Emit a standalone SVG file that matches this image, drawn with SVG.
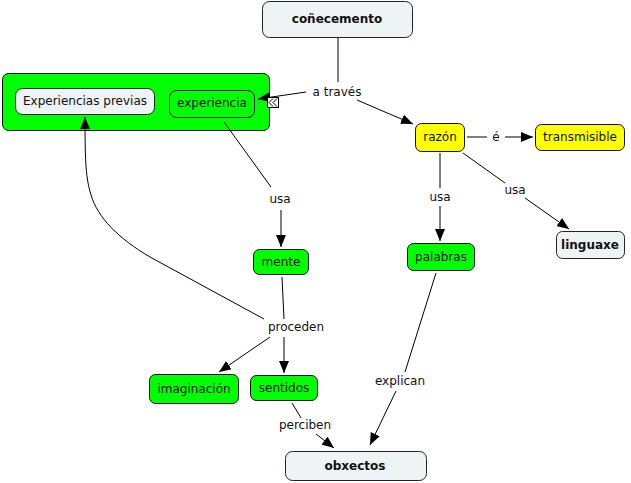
<svg xmlns="http://www.w3.org/2000/svg" width="631" height="483" viewBox="0 0 631 483">
<defs>
<marker id="arr" markerWidth="12" markerHeight="10" refX="12" refY="5" orient="auto" markerUnits="userSpaceOnUse">
<path d="M0,0 L12,5 L0,10 Z" fill="#000"/>
</marker>
<style>
text{font-family:"DejaVu Sans",Verdana,sans-serif;font-size:12px;text-anchor:middle;dominant-baseline:central;fill:#111}
.b{font-weight:bold}
.light{fill:#eef3f5;stroke:#222;stroke-width:1}
.green{fill:#00ff00;stroke:#111;stroke-width:1}
.yellow{fill:#ffff00;stroke:#111;stroke-width:1}
.c{fill:none;stroke:#000;stroke-width:1}
</style>
</defs>
<rect width="631" height="483" fill="#fff"/>
<g id="node-conecemento">
<rect class="light" x="262.5" y="1.5" width="150" height="36" rx="7"/>
<text class="b" x="337" y="19">coñecemento</text>
</g>
<g id="node-grupo">
<rect class="green" x="2.5" y="73.5" width="267" height="57" rx="6"/>
</g>
<g id="node-experiencias-previas">
<rect class="light" x="15.5" y="88.5" width="139" height="26" rx="7"/>
<text x="85" y="101">Experiencias previas</text>
</g>
<g id="node-experiencia">
<rect class="green" x="169.5" y="90.5" width="85" height="27" rx="7"/>
<text x="212" y="103">experiencia</text>
</g>
<g id="node-razon">
<rect class="yellow" x="415.5" y="123.5" width="49" height="28" rx="6"/>
<text x="440" y="137">razón</text>
</g>
<g id="node-transmisible">
<rect class="yellow" x="535.5" y="124.5" width="89" height="26" rx="6"/>
<text x="580" y="137">transmisible</text>
</g>
<g id="node-palabras">
<rect class="green" x="407.5" y="243.5" width="67" height="27" rx="6"/>
<text x="441" y="257">palabras</text>
</g>
<g id="node-linguaxe">
<rect class="light" x="556.5" y="231.5" width="68" height="27" rx="6"/>
<text class="b" x="590" y="245">linguaxe</text>
</g>
<g id="node-mente">
<rect class="green" x="253.5" y="249.5" width="55" height="25" rx="6"/>
<text x="281" y="262">mente</text>
</g>
<g id="node-imaginacion">
<rect class="green" x="149.5" y="374.5" width="89" height="29" rx="6"/>
<text x="194" y="389">imaginación</text>
</g>
<g id="node-sentidos">
<rect class="green" x="250.5" y="375.5" width="67" height="25" rx="6"/>
<text x="284" y="388">sentidos</text>
</g>
<g id="node-obxectos">
<rect class="light" x="285.5" y="451.5" width="141" height="29" rx="7"/>
<text class="b" x="355" y="466">obxectos</text>
</g>
<g id="connectors">
<path class="c" d="M338,38 L338,82"/>
<path class="c" d="M306,92 L258,99" marker-end="url(#arr)"/>
<path class="c" d="M357,100 L413,124" marker-end="url(#arr)"/>
<path class="c" d="M467,137 L487,137"/>
<path class="c" d="M505,137 L533,137" marker-end="url(#arr)"/>
<path class="c" d="M440,153 L440,188"/>
<path class="c" d="M440,206 L440,241" marker-end="url(#arr)"/>
<path class="c" d="M463,153 L505,183"/>
<path class="c" d="M525,198 L569,229" marker-end="url(#arr)"/>
<path class="c" d="M224,122 L271,187"/>
<path class="c" d="M281,210 L281,247" marker-end="url(#arr)"/>
<path class="c" d="M282,277 L284,319"/>
<path class="c" d="M264,319 L150,257 C118,238 98,218 91,195 C86,178 85,165 85,117" marker-end="url(#arr)"/>
<path class="c" d="M270,337 L219,372" marker-end="url(#arr)"/>
<path class="c" d="M284,337 L284,373" marker-end="url(#arr)"/>
<path class="c" d="M292,403 L301,418"/>
<path class="c" d="M316,434 L334,448" marker-end="url(#arr)"/>
<path class="c" d="M436,273 L405,372"/>
<path class="c" d="M396,391 L370,445" marker-end="url(#arr)"/>
<text x="337" y="92">a través</text>
<text x="496" y="137">é</text>
<text x="440" y="197">usa</text>
<text x="515" y="190">usa</text>
<text x="280" y="199">usa</text>
<text x="296" y="327">proceden</text>
<text x="305" y="425">perciben</text>
<text x="400" y="381">explican</text>
<g id="icon">
<rect x="267.5" y="97.5" width="11" height="10" fill="#fff" stroke="#000" stroke-width="1"/>
<path d="M273,98.5 L269,102.5 L273,106.5 M277,98.5 L273,102.5 L277,106.5" fill="none" stroke="#000" stroke-width="1"/>
</g>
</g>
</svg>
